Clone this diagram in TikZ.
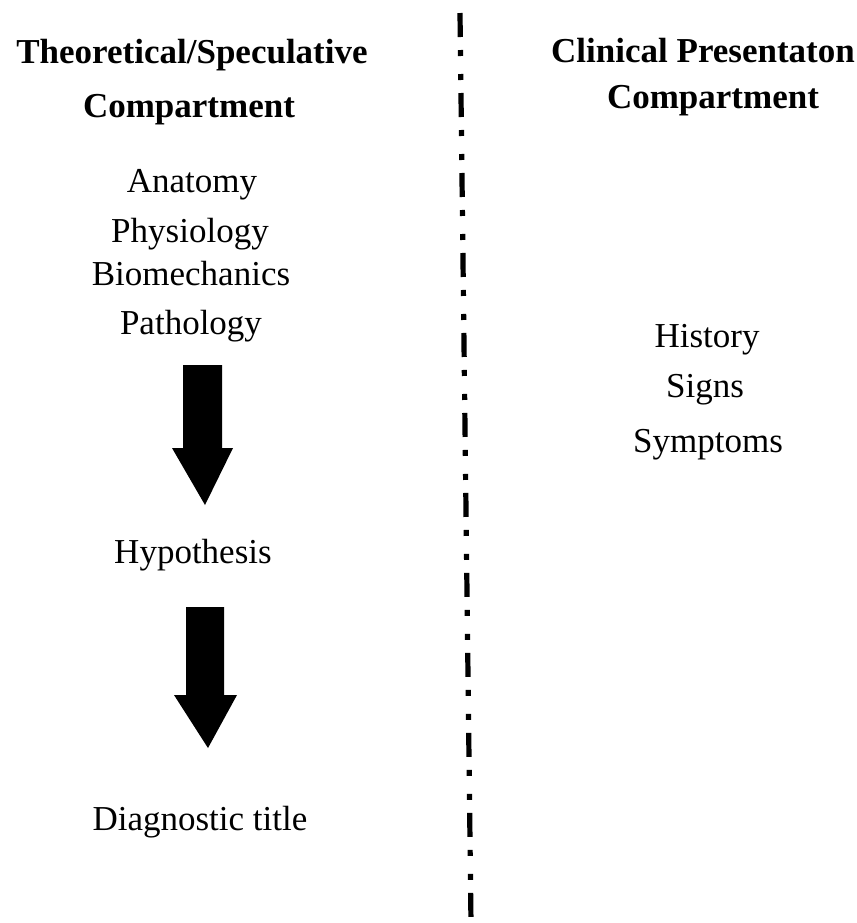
\documentclass[tikz,border=0pt]{standalone}
\usepackage{fontspec}
\setmainfont{Liberation Serif}
\begin{document}
\begin{tikzpicture}[x=0.5pt,y=-0.5pt,
  txt/.style={anchor=base,inner sep=0pt,font=\fontsize{17.5}{21}\selectfont},
  head/.style={txt,font=\fontsize{17.5}{21}\selectfont\bfseries},
  blockarrow/.style={fill=black,draw=none},
  divider/.style={line width=2.6pt,line cap=butt,
    dash pattern=on 12pt off 6.5pt on 3pt off 9pt on 3pt off 6.5pt}]
\useasboundingbox (0,0) rectangle (857,923);
% left column
\node[head] (t1) at (192,63) {Theoretical/Speculative};
\node[head] (t2) at (189,117) {Compartment};
\node[txt] (ana) at (192,192) {Anatomy};
\node[txt] (phy) at (190,242) {Physiology};
\node[txt] (bio) at (191,285) {Biomechanics};
\node[txt] (pat) at (191,334) {Pathology};
\node[txt] (hyp) at (193,563) {Hypothesis};
\node[txt] (dia) at (200,830) {Diagnostic title};
% right column
\node[head] (c1) at (703,62) {Clinical Presentaton};
\node[head] (c2) at (713,108) {Compartment};
\node[txt] (his) at (707,347) {History};
\node[txt] (sig) at (705,397) {Signs};
\node[txt] (sym) at (708,452) {Symptoms};
% divider
\coordinate (dtop) at (460,13);
\coordinate (dbot) at (471,923);
\draw[divider] (dtop) -- (dbot);
% block arrows
\fill[blockarrow] (183,365) -- (222,365) -- (222,448) -- (233,448) -- (205,505)
  -- (172,448) -- (183,448) -- cycle;
\fill[blockarrow] (186,607) -- (224,607) -- (224,695) -- (237,695) -- (208,748)
  -- (174,695) -- (186,695) -- cycle;
\end{tikzpicture}
\end{document}
